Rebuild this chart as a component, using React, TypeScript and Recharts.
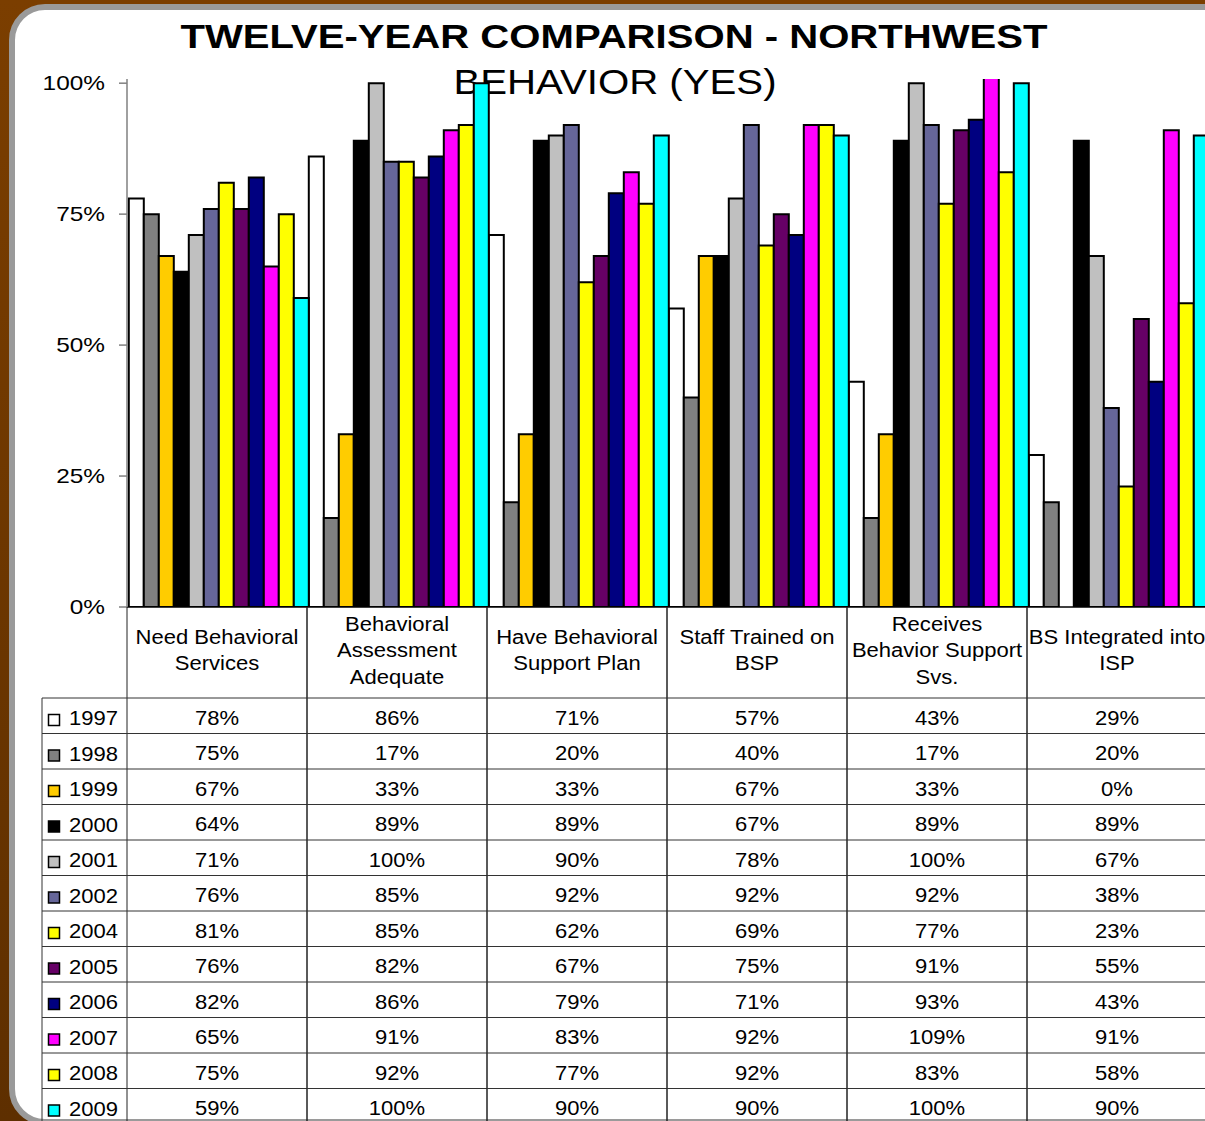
import React from 'react';
import { BarChart, Bar, XAxis, YAxis } from 'recharts';

const categories = [
  'Need Behavioral\nServices',
  'Behavioral\nAssessment\nAdequate',
  'Have Behavioral\nSupport Plan',
  'Staff Trained on\nBSP',
  'Receives\nBehavior Support\nSvs.',
  'BS Integrated into\nISP',
];

const years = ['1997', '1998', '1999', '2000', '2001', '2002', '2004', '2005', '2006', '2007', '2008', '2009'];
const colors = ['#FFFFFF', '#808080', '#FFCC00', '#000000', '#C0C0C0', '#666699', '#FFFF00', '#660066', '#000080', '#FF00FF', '#FFFF00', '#00FFFF'];

const v1997 = [78, 86, 71, 57, 43, 29];
const v1998 = [75, 17, 20, 40, 17, 20];
const v1999 = [67, 33, 33, 67, 33, 0];
const v2000 = [64, 89, 89, 67, 89, 89];
const v2001 = [71, 100, 90, 78, 100, 67];
const v2002 = [76, 85, 92, 92, 92, 38];
const v2004 = [81, 85, 62, 69, 77, 23];
const v2005 = [76, 82, 67, 75, 91, 55];
const v2006 = [82, 86, 79, 71, 93, 43];
const v2007 = [65, 91, 83, 92, 109, 91];
const v2008 = [75, 92, 77, 92, 83, 58];
const v2009 = [59, 100, 90, 90, 100, 90];

const series = [v1997, v1998, v1999, v2000, v2001, v2002, v2004, v2005, v2006, v2007, v2008, v2009];
const yTicks = [0, 25, 50, 75, 100];

const data = categories.map((c, i) => {
  const row: Record<string, any> = { cat: c };
  years.forEach((y, k) => { row['y' + y] = series[k][i]; });
  return row;
});

const FONT = "'Liberation Sans', Arial, Helvetica, sans-serif";
const CHART_W = 1240;
const CHART_H = 1130;
const MARGIN = { top: 79, right: 33, left: 0, bottom: 0 };
const YAXIS_W = 127;
const PLOT_BOTTOM = 607;
const XAXIS_H = CHART_H - PLOT_BOTTOM;
const BAND = (CHART_W - MARGIN.left - MARGIN.right - YAXIS_W) / categories.length;
const HEADER_H = 91;
const ROW_H = 35.5;
const TXT = 19.5;
const SX = 1.13;

function SText({ x, y, anchor = 'middle', size = TXT, sx = SX, weight = 400, children }: any) {
  return (
    <text
      transform={`translate(${x},${y}) scale(${sx},1)`}
      textAnchor={anchor}
      fontSize={size}
      fontFamily={FONT}
      fontWeight={weight}
      fill="#000"
    >
      {children}
    </text>
  );
}

function YTick(props: any) {
  const { x, y, payload } = props;
  return <SText x={x} y={y + 7} anchor="end" size={20} sx={1.22}>{payload.value + '%'}</SText>;
}

function TableTick(props: any) {
  const { x, y, payload, index } = props;
  const half = BAND / 2;
  const lines = String(payload.value).split('\n');
  const n = lines.length;
  const midBase = y + 50;
  const bottom = y + HEADER_H + years.length * ROW_H + 10;
  const els: any[] = [];
  els.push(<line key="vl" x1={x - half} x2={x - half} y1={y} y2={bottom} stroke="#222" strokeWidth={1} />);
  els.push(<line key="vr" x1={x + half} x2={x + half} y1={y} y2={bottom} stroke="#222" strokeWidth={1} />);
  lines.forEach((ln, i) => {
    els.push(<SText key={'h' + i} x={x} y={midBase + (i - (n - 1) / 2) * 26.5}>{ln}</SText>);
  });
  for (let r = 0; r <= years.length; r++) {
    const ty = y + HEADER_H + r * ROW_H;
    els.push(<line key={'hl' + r} x1={x - half} x2={x + half} y1={ty} y2={ty} stroke="#333" strokeWidth={1} />);
  }
  years.forEach((yr, r) => {
    const top = y + HEADER_H + r * ROW_H;
    els.push(<SText key={'v' + r} x={x} y={top + 26.5}>{series[r][index] + '%'}</SText>);
  });
  if (index === 0) {
    const left = 42;
    const right = x - half;
    els.push(<line key="lv" x1={left} x2={left} y1={y + HEADER_H} y2={bottom} stroke="#333" strokeWidth={1} />);
    for (let r = 0; r <= years.length; r++) {
      const ty = y + HEADER_H + r * ROW_H;
      els.push(<line key={'lh' + r} x1={left} x2={right} y1={ty} y2={ty} stroke="#333" strokeWidth={1} />);
    }
    years.forEach((yr, r) => {
      const top = y + HEADER_H + r * ROW_H;
      els.push(<rect key={'sw' + r} x={48.5} y={top + 16.5} width={11} height={11} fill={colors[r]} stroke="#000" strokeWidth={1.5} />);
      els.push(<SText key={'yr' + r} x={69} y={top + 27} anchor="start">{yr}</SText>);
    });
  }
  return <g>{els}</g>;
}

export default function App() {
  return (
    <div style={{ position: 'absolute', left: 0, top: 0, width: 1205, height: 1121, overflow: 'hidden', background: 'linear-gradient(#7b3e00, #5e2f00)' }}>
      <div style={{ position: 'absolute', left: 9, top: 4, width: 1300, height: 1109, border: '6px solid #9a9a9a', borderRadius: 36, background: '#fff' }} />
      <div style={{ position: 'absolute', left: 614, top: 17, transform: 'translateX(-50%) scaleX(1.215)', whiteSpace: 'nowrap', fontFamily: FONT, fontWeight: 700, fontSize: 33, lineHeight: '40px', color: '#000' }}>
        TWELVE-YEAR COMPARISON - NORTHWEST
      </div>
      <div style={{ position: 'absolute', left: 615, top: 62, transform: 'translateX(-50%) scaleX(1.165)', whiteSpace: 'nowrap', fontFamily: FONT, fontWeight: 400, fontSize: 34.5, lineHeight: '40px', color: '#000' }}>
        BEHAVIOR (YES)
      </div>
      <div style={{ position: 'absolute', left: 0, top: 0 }}>
        <BarChart width={CHART_W} height={CHART_H} data={data} margin={MARGIN} barCategoryGap="1%" barGap={0}>
          <XAxis
            dataKey="cat"
            height={XAXIS_H}
            interval={0}
            tickLine={false}
            tickSize={0}
            tickMargin={0}
            axisLine={{ stroke: '#000', strokeWidth: 1.5 }}
            tick={<TableTick />}
          />
          <YAxis
            width={YAXIS_W}
            domain={[0, 100.8]}
            ticks={yTicks}
            allowDataOverflow
            tickSize={8}
            tickMargin={14}
            axisLine={{ stroke: '#808080', strokeWidth: 1.5 }}
            tickLine={{ stroke: '#808080', strokeWidth: 1.5 }}
            tick={<YTick />}
          />
          {years.map((yr, k) => (
            <Bar key={yr} dataKey={'y' + yr} fill={colors[k]} stroke="#000" strokeWidth={2} isAnimationActive={false} />
          ))}
        </BarChart>
      </div>
    </div>
  );
}
